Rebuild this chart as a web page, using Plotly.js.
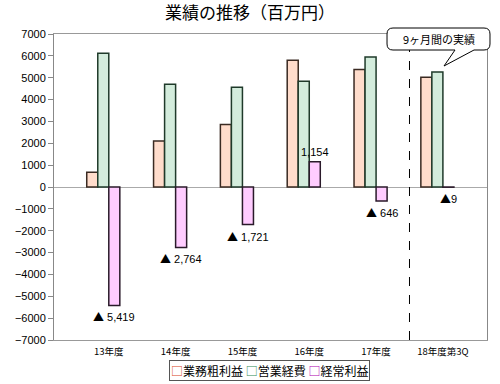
<!DOCTYPE html>
<html>
<head>
<meta charset="utf-8">
<script src="https://cdn.plot.ly/plotly-3.0.1.min.js"></script>
<style>html,body{margin:0;padding:0;background:#fff;}#chart{width:500px;height:384px;}</style>
</head>
<body>
<div id="chart"></div>
<script>
const categories = ["13年度", "14年度", "15年度", "16年度", "17年度", "18年度第3Q"];
const grossProfit = [680, 2100, 2860, 5800, 5380, 5020];       // 業務粗利益
const operatingExpense = [6120, 4700, 4560, 4840, 5950, 5260]; // 営業経費
const ordinaryProfit = [-5419, -2764, -1721, 1154, -646, -9];  // 経常利益
const seriesNames = ["業務粗利益", "営業経費", "経常利益"];
const profitLabels = ["▲ 5,419", "▲ 2,764", "▲ 1,721", "1,154", "▲ 646", "▲9"];
const calloutText = "9ヶ月間の実績";

const jp = "Noto Sans CJK JP, Liberation Sans, sans-serif";
const num = "Liberation Sans, Arial, Noto Sans CJK JP, sans-serif";

// plot area geometry in pixels (for decorative shapes)
const L = 54, R = 13, T = 34, B = 44, W = 500, H = 384;
const pw = W - L - R, ph = H - T - B;
const px = x => ((x - L) / pw).toFixed(4);
const py = y => ((H - B - y) / ph).toFixed(4);

function bar(name, y, fill, line) {
  return {
    type: "bar", name: name, x: categories, y: y,
    marker: {color: fill, line: {color: line, width: 1.5}},
    hoverinfo: "skip", showlegend: false
  };
}

const traces = [
  bar(seriesNames[0], grossProfit, "#FFDCCB", "#3a2a22"),
  bar(seriesNames[1], operatingExpense, "#D3ECDC", "#1f3a2a"),
  bar(seriesNames[2], ordinaryProfit, "#FFCCFF", "#2a1a2a"),
  {type: "bar", name: "", x: categories, y: categories.map(() => null), showlegend: false, hoverinfo: "skip"}
];

const tri = '<span style="font-family:Noto Sans CJK JP">▲</span>';
const annotations = ordinaryProfit.map((v, i) => ({
  x: categories[i], y: v, xref: "x", yref: "y",
  text: profitLabels[i].replace("▲", tri), showarrow: false,
  xshift: 5.5, yshift: v < 0 ? -11 : 10, yanchor: "middle", xanchor: "center",
  font: {family: num, size: 11, color: "#000"}
}));

annotations.push({
  xref: "paper", yref: "paper", x: px(439), y: py(39),
  text: calloutText, showarrow: false, xanchor: "center", yanchor: "middle",
  font: {family: jp, size: 11, color: "#000"}
});

const legendText = '<span style="color:#D9431A">□</span>' + seriesNames[0] + ' ' +
  '<span style="color:#2E8A55">□</span>' + seriesNames[1] + ' ' +
  '<span style="color:#B000B0">□</span>' + seriesNames[2];
annotations.push({
  xref: "paper", yref: "paper", x: px(270), y: py(371),
  text: legendText, showarrow: false, xanchor: "center", yanchor: "middle",
  font: {family: jp, size: 12, color: "#000"},
  bordercolor: "#555", borderwidth: 1, borderpad: 1, bgcolor: "#fff"
});

// callout outline with pointer (pixel coords -> paper)
const r = 6, bx0 = 387, bx1 = 490, by0 = 28, by1 = 50;
const calloutPath =
  `M ${px(bx0 + r)},${py(by0)} L ${px(bx1 - r)},${py(by0)} ` +
  `Q ${px(bx1)},${py(by0)} ${px(bx1)},${py(by0 + r)} ` +
  `L ${px(bx1)},${py(by1 - r)} Q ${px(bx1)},${py(by1)} ${px(bx1 - r)},${py(by1)} ` +
  `L ${px(474)},${py(by1)} L ${px(444)},${py(66)} L ${px(455)},${py(by1)} ` +
  `L ${px(bx0 + r)},${py(by1)} Q ${px(bx0)},${py(by1)} ${px(bx0)},${py(by1 - r)} ` +
  `L ${px(bx0)},${py(by0 + r)} Q ${px(bx0)},${py(by0)} ${px(bx0 + r)},${py(by0)} Z`;

const shapes = [
  {type: "line", xref: "x", yref: "paper", x0: 4.5, x1: 4.5, y0: 0, y1: py(50),
   line: {color: "#000", width: 1, dash: "dash"}},
  {type: "path", xref: "paper", yref: "paper", path: calloutPath,
   fillcolor: "#fff", line: {color: "#000", width: 1}, layer: "above"}
];

const layout = {
  width: W, height: H,
  margin: {l: L, r: R, t: T, b: B, pad: 0},
  paper_bgcolor: "#fff", plot_bgcolor: "#fff",
  title: {text: "業績の推移（百万円）", x: 0.5, xanchor: "center", y: 1 - 13 / H, yanchor: "middle",
          yref: "container", font: {family: jp, size: 17, color: "#000"}},
  barmode: "group", bargap: 0.34, bargroupgap: 0,
  showlegend: false,
  xaxis: {
    type: "category", categoryarray: categories, range: [-0.82, 5.66],
    showline: true, linecolor: "#999", linewidth: 1, mirror: true,
    ticks: "", showgrid: false, zeroline: false, ticklabelstandoff: 3,
    tickfont: {family: jp, size: 9.5, color: "#000"}, fixedrange: true
  },
  yaxis: {
    range: [-7000, 7000], dtick: 1000, tick0: 0,
    showline: true, linecolor: "#888", linewidth: 1, mirror: true,
    ticks: "outside", ticklen: 5, tickcolor: "#888",
    showgrid: false, zeroline: true, zerolinecolor: "#aaa", zerolinewidth: 1,
    tickfont: {family: num, size: 11, color: "#000"}, fixedrange: true
  },
  annotations: annotations,
  shapes: shapes
};

Plotly.newPlot("chart", traces, layout, {displayModeBar: false, staticPlot: true});
</script>
</body>
</html>
